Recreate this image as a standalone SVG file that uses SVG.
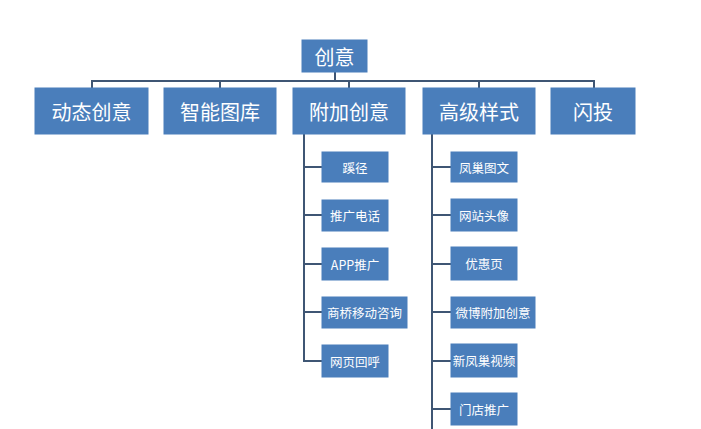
<svg xmlns="http://www.w3.org/2000/svg" width="701" height="429" viewBox="0 0 701 429">
<style>
.box{fill:#4a7ebb;stroke:#4a7ebb;stroke-width:1}
.t1{font-family:"Noto Sans CJK SC","Noto Sans",sans-serif;font-size:20px;fill:#ffffff;text-anchor:middle;dominant-baseline:central}
.t2{font-family:"Noto Sans CJK SC","Noto Sans",sans-serif;font-size:12.5px;fill:#ffffff;text-anchor:middle;dominant-baseline:central}
.ln{fill:none;stroke:#3f5674;stroke-width:2}
</style>
<rect width="701" height="429" fill="#ffffff"/>
<g id="connectors">
<path class="ln" d="M335 72V81M92 88V81H594V88M220 81V88M349 81V88M479 81V88"/>
<path class="ln" d="M304 134V362M304 167H322M304 215H322M304 264H322M304 312H322M304 361H322"/>
<path class="ln" d="M432 134V429M432 167H451M432 215H451M432 264H451M432 312H451M432 361H451M432 409H451"/>
</g>
<g id="root"><rect class="box" x="302" y="40" width="65" height="32"/><text class="t1" x="334.5" y="56">创意</text></g>
<g id="n1"><rect class="box" x="35" y="88" width="113" height="46"/><text class="t1" x="91.5" y="111">动态创意</text></g>
<g id="n2"><rect class="box" x="164" y="88" width="112" height="46"/><text class="t1" x="220" y="111">智能图库</text></g>
<g id="n3"><rect class="box" x="293" y="88" width="112" height="46"/><text class="t1" x="349" y="111">附加创意</text></g>
<g id="n4"><rect class="box" x="423" y="88" width="112" height="46"/><text class="t1" x="479" y="111">高级样式</text></g>
<g id="n5"><rect class="box" x="551" y="88" width="84" height="46"/><text class="t1" x="593" y="111">闪投</text></g>
<g id="a1"><rect class="box" x="322" y="152" width="66" height="30"/><text class="t2" x="355" y="167">蹊径</text></g>
<g id="a2"><rect class="box" x="322" y="200" width="66" height="31"/><text class="t2" x="355" y="215.5">推广电话</text></g>
<g id="a3"><rect class="box" x="322" y="248" width="66" height="32"/><text class="t2" x="355" y="264">APP推广</text></g>
<g id="a4"><rect class="box" x="322" y="297" width="85" height="31"/><text class="t2" x="364.5" y="312.5">商桥移动咨询</text></g>
<g id="a5"><rect class="box" x="322" y="345" width="66" height="32"/><text class="t2" x="355" y="361">网页回呼</text></g>
<g id="b1"><rect class="box" x="451" y="152" width="66" height="30"/><text class="t2" x="484" y="167">凤巢图文</text></g>
<g id="b2"><rect class="box" x="451" y="199" width="66" height="32"/><text class="t2" x="484" y="215">网站头像</text></g>
<g id="b3"><rect class="box" x="451" y="247" width="66" height="33"/><text class="t2" x="484" y="263.5">优惠页</text></g>
<g id="b4"><rect class="box" x="451" y="297" width="84" height="31"/><text class="t2" x="493" y="312.5">微博附加创意</text></g>
<g id="b5"><rect class="box" x="451" y="344" width="66" height="33"/><text class="t2" x="484" y="360.5">新凤巢视频</text></g>
<g id="b6"><rect class="box" x="451" y="393" width="66" height="32"/><text class="t2" x="484" y="409">门店推广</text></g>
</svg>
